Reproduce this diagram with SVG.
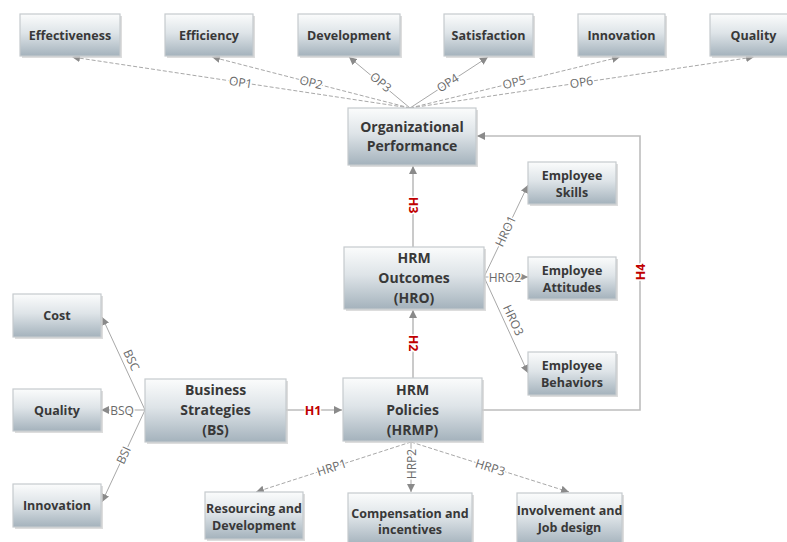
<svg xmlns="http://www.w3.org/2000/svg" width="787" height="542" viewBox="0 0 787 542">
<defs>
<linearGradient id="g" x1="0" y1="0" x2="0" y2="1">
<stop offset="0" stop-color="#fbfcfc"/>
<stop offset="0.45" stop-color="#dee4e8"/>
<stop offset="1" stop-color="#a4b2bc"/>
</linearGradient>
<marker id="a" viewBox="0 0 10 10" refX="10" refY="5" markerWidth="8" markerHeight="8" markerUnits="userSpaceOnUse" orient="auto">
<path d="M0,0 L10,5 L0,10 z" fill="#8a8a8a"/>
</marker>
</defs>
<style>
.sh{fill:#cfcfcf;opacity:.7}
.bx{fill:url(#g);stroke:#c5cacd;stroke-width:1.2}
.t{font-family:"Open Sans","Noto Sans",sans-serif;font-weight:700;font-size:12.5px;fill:#383838;text-anchor:middle}
.tl{font-family:"Open Sans","Noto Sans",sans-serif;font-weight:700;font-size:14px;fill:#383838;text-anchor:middle}
.ln{fill:none;stroke:#a8a8a8;stroke-width:1;marker-end:url(#a)}
.d{stroke-dasharray:4,2}
.h{fill:none;stroke:#bdbdbd;stroke-width:1.6;marker-end:url(#a)}
.lb{font-family:"Open Sans","Noto Sans",sans-serif;font-size:12px;fill:#6a6a6a;text-anchor:middle;stroke:#fff;stroke-width:3;paint-order:stroke}
.hl{font-family:"Open Sans","Noto Sans",sans-serif;font-weight:700;font-size:12.5px;fill:#c00000;text-anchor:middle;stroke:#fff;stroke-width:3;paint-order:stroke}
</style>
<rect width="787" height="542" fill="#fff"/>
<g id="connectors">
<line class="ln d" x1="410" y1="108" x2="72" y2="57"/>
<line class="ln d" x1="410" y1="108" x2="212" y2="57"/>
<line class="ln" x1="410" y1="108" x2="349" y2="57"/>
<line class="ln" x1="410" y1="108" x2="488" y2="57"/>
<line class="ln d" x1="410" y1="108" x2="620" y2="57"/>
<line class="ln d" x1="410" y1="108" x2="754" y2="57"/>
<line class="h" x1="413" y1="247" x2="413" y2="166"/>
<line class="h" x1="413" y1="378" x2="413" y2="310"/>
<line class="h" x1="286" y1="410" x2="342" y2="410"/>
<polyline class="h" points="482,410 640,410 640,136 477,136"/>
<line class="ln" x1="484" y1="277" x2="528" y2="185"/>
<line class="ln" x1="484" y1="277" x2="528" y2="277"/>
<line class="ln" x1="484" y1="277" x2="528" y2="373"/>
<line class="ln" x1="145" y1="410" x2="102" y2="317"/>
<line class="ln" x1="145" y1="410" x2="101" y2="410"/>
<line class="ln" x1="145" y1="410" x2="102" y2="502"/>
<line class="ln d" x1="411" y1="442" x2="256" y2="492"/>
<line class="ln" x1="411" y1="442" x2="411" y2="492"/>
<line class="ln d" x1="411" y1="442" x2="569" y2="492"/>
<text class="lb" transform="translate(240,86.5) rotate(8.6)">OP1</text>
<text class="lb" transform="translate(310,86.5) rotate(14.2)">OP2</text>
<text class="lb" transform="translate(378,85.5) rotate(39.9)">OP3</text>
<text class="lb" transform="translate(450,86.5) rotate(-32.7)">OP4</text>
<text class="lb" transform="translate(515,86.5) rotate(-13.6)">OP5</text>
<text class="lb" transform="translate(582,86.5) rotate(-8.4)">OP6</text>
<text class="hl" transform="translate(408.5,205) rotate(90)">H3</text>
<text class="hl" transform="translate(408.5,343) rotate(90)">H2</text>
<text class="hl" x="313" y="414.5">H1</text>
<text class="hl" transform="translate(644.5,272) rotate(-90)">H4</text>
<text class="lb" transform="translate(509.5,233) rotate(-64.4)">HRO1</text>
<text class="lb" x="505" y="281.5">HRO2</text>
<text class="lb" transform="translate(509.5,322) rotate(65.1)">HRO3</text>
<text class="lb" transform="translate(127.5,362) rotate(65.2)">BSC</text>
<text class="lb" x="122" y="414.5">BSQ</text>
<text class="lb" transform="translate(127.5,457) rotate(-65)">BSI</text>
<text class="lb" transform="translate(333,471.5) rotate(-17.9)">HRP1</text>
<text class="lb" transform="translate(415.5,464) rotate(-90)">HRP2</text>
<text class="lb" transform="translate(489,471.5) rotate(17.6)">HRP3</text>
</g>
<g id="effectiveness"><rect class="sh" x="22" y="16" width="100" height="42"/><rect class="bx" x="20" y="14" width="100" height="42"/><text class="t" x="70" y="39.5">Effectiveness</text></g>
<g id="efficiency"><rect class="sh" x="167" y="16" width="88" height="42"/><rect class="bx" x="165" y="14" width="88" height="42"/><text class="t" x="209" y="39.5">Efficiency</text></g>
<g id="development"><rect class="sh" x="300" y="16" width="102" height="42"/><rect class="bx" x="298" y="14" width="102" height="42"/><text class="t" x="349" y="39.5">Development</text></g>
<g id="satisfaction"><rect class="sh" x="446" y="16" width="89" height="42"/><rect class="bx" x="444" y="14" width="89" height="42"/><text class="t" x="488.5" y="39.5">Satisfaction</text></g>
<g id="innovation-op"><rect class="sh" x="580" y="16" width="87" height="42"/><rect class="bx" x="578" y="14" width="87" height="42"/><text class="t" x="621.5" y="39.5">Innovation</text></g>
<g id="quality-op"><rect class="sh" x="712" y="16" width="87" height="42"/><rect class="bx" x="710" y="14" width="87" height="42"/><text class="t" x="753.5" y="39.5">Quality</text></g>
<g id="org-performance"><rect class="sh" x="350" y="110" width="128" height="57"/><rect class="bx" x="348" y="108" width="128" height="57"/><text class="tl" x="412" y="132">Organizational</text><text class="tl" x="412" y="151">Performance</text></g>
<g id="employee-skills"><rect class="sh" x="530" y="164" width="88" height="42"/><rect class="bx" x="528" y="162" width="88" height="42"/><text class="t" x="572" y="179.5">Employee</text><text class="t" x="572" y="196.5">Skills</text></g>
<g id="employee-attitudes"><rect class="sh" x="530" y="259" width="88" height="42"/><rect class="bx" x="528" y="257" width="88" height="42"/><text class="t" x="572" y="274.5">Employee</text><text class="t" x="572" y="291.5">Attitudes</text></g>
<g id="employee-behaviors"><rect class="sh" x="530" y="354" width="88" height="43"/><rect class="bx" x="528" y="352" width="88" height="43"/><text class="t" x="572" y="370">Employee</text><text class="t" x="572" y="387">Behaviors</text></g>
<g id="hrm-outcomes"><rect class="sh" x="346" y="249" width="140" height="62"/><rect class="bx" x="344" y="247" width="140" height="62"/><text class="tl" x="414" y="263">HRM</text><text class="tl" x="414" y="283">Outcomes</text><text class="tl" x="414" y="303">(HRO)</text></g>
<g id="hrm-policies"><rect class="sh" x="345" y="380" width="139" height="63"/><rect class="bx" x="343" y="378" width="139" height="63"/><text class="tl" x="412.5" y="395">HRM</text><text class="tl" x="412.5" y="415">Policies</text><text class="tl" x="412.5" y="435">(HRMP)</text></g>
<g id="business-strategies"><rect class="sh" x="147" y="381" width="141" height="63"/><rect class="bx" x="145" y="379" width="141" height="63"/><text class="tl" x="215.5" y="395">Business</text><text class="tl" x="215.5" y="415">Strategies</text><text class="tl" x="215.5" y="435">(BS)</text></g>
<g id="cost"><rect class="sh" x="15" y="296" width="88" height="43"/><rect class="bx" x="13" y="294" width="88" height="43"/><text class="t" x="57" y="320">Cost</text></g>
<g id="quality-bs"><rect class="sh" x="15" y="391" width="88" height="42"/><rect class="bx" x="13" y="389" width="88" height="42"/><text class="t" x="57" y="414.5">Quality</text></g>
<g id="innovation-bs"><rect class="sh" x="15" y="486" width="88" height="43"/><rect class="bx" x="13" y="484" width="88" height="43"/><text class="t" x="57" y="510">Innovation</text></g>
<g id="resourcing"><rect class="sh" x="207" y="494" width="98" height="47"/><rect class="bx" x="205" y="492" width="98" height="47"/><text class="t" x="254" y="512.5">Resourcing and</text><text class="t" x="254" y="529.5">Development</text></g>
<g id="compensation"><rect class="sh" x="350" y="495" width="124" height="52"/><rect class="bx" x="348" y="493" width="124" height="52"/><text class="t" x="410" y="517.5">Compensation and</text><text class="t" x="410" y="533.5">incentives</text></g>
<g id="involvement"><rect class="sh" x="519" y="495" width="105" height="52"/><rect class="bx" x="517" y="493" width="105" height="52"/><text class="t" x="569.5" y="514.5">Involvement and</text><text class="t" x="569.5" y="531.5">Job design</text></g>
</svg>
